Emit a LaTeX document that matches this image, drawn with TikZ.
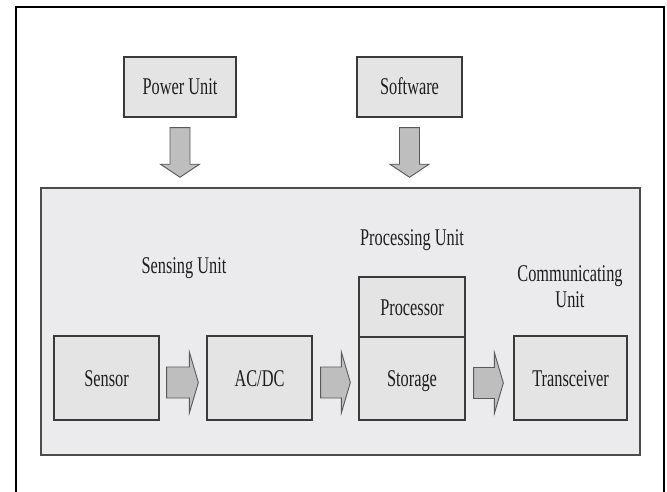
\documentclass[tikz,border=0pt]{standalone}
\usepackage{fontspec}
\setmainfont{Liberation Serif}[FakeStretch=0.68]
\usetikzlibrary{calc}
\definecolor{boxfill}{HTML}{E4E4E4}
\definecolor{mainfill}{HTML}{EBEBED}
\definecolor{arrfill}{HTML}{BEBEBE}
\definecolor{boxline}{HTML}{3A3A3A}
\definecolor{txtcol}{HTML}{1E1E1E}
\tikzset{
  unitbox/.style={draw=boxline, line width=1.3pt, fill=boxfill, inner sep=0pt,
    text height=16pt, text depth=0pt, text=txtcol,
    font=\fontsize{24}{28}\selectfont},
  mainbox/.style={draw=black!70, line width=1.5pt, fill=mainfill, inner sep=0pt},
  lbl/.style={anchor=base, inner sep=0pt, text=txtcol, font=\fontsize{24}{28}\selectfont},
  arrowfill/.style={draw=black!65, line width=0.9pt, fill=arrfill, line join=miter},
}
% horizontal block arrow: from node, to node, start gap, end gap
\newcommand\harr[4]{%
  \path[arrowfill] let \p1=(#1.east), \p2=(#2.west) in
    (\x1+#3, \y1+11pt) -- (\x2-#4-9pt, \y1+11pt) -- (\x2-#4-9pt, \y1+26pt)
    -- (\x2-#4, \y1-4.5pt) -- (\x2-#4-9pt, \y1-35pt) -- (\x2-#4-9pt, \y1-20pt)
    -- (\x1+#3, \y1-20pt) -- cycle;}
% vertical block arrow: from node (south) into node (north)
\newcommand\varr[2]{%
  \path[arrowfill] let \p1=(#1.south), \p2=(#2.north) in
    (\x1-10pt, \y1-10pt) -- (\x1-10pt, \y2+23pt) -- (\x1-19.5pt, \y2+23pt)
    -- (\x1, \y2+10pt) -- (\x1+19.5pt, \y2+23pt) -- (\x1+10pt, \y2+23pt)
    -- (\x1+10pt, \y1-10pt) -- cycle;}
\begin{document}
\begin{tikzpicture}[x=1pt, y=-1pt]
\useasboundingbox (0,0) rectangle (667,492);
\fill[white] (0,0) rectangle (667,492);
% outer frame
\draw[line width=1.2pt, black] (16,492) -- (16,7) -- (664,7) -- (664,492);
% main container
\node[mainbox, minimum width=599pt, minimum height=267pt] (main) at (340.5,321.5) {};
% top units
\node[unitbox, minimum width=112pt, minimum height=60pt] (power) at (180,87) {Power Unit};
\node[unitbox, minimum width=105pt, minimum height=60pt] (soft) at (409.5,87) {Software};
% inner boxes
\node[unitbox, minimum width=105pt, minimum height=84pt] (sensor) at (106.5,378) {Sensor};
\node[unitbox, minimum width=105pt, minimum height=84pt] (acdc) at (259.5,378) {AC/DC};
\node[unitbox, minimum width=106pt, minimum height=60pt] (proc) at (412,307) {Processor};
\node[unitbox, minimum width=106pt, minimum height=83pt] (stor) at (412,378.5) {Storage};
\node[unitbox, minimum width=113pt, minimum height=84pt] (trans) at (570.5,378) {Transceiver};
% labels
\node[lbl] (lsense) at (184,273) {Sensing Unit};
\node[lbl] (lproc) at (412,245) {Processing Unit};
\node[lbl] (lcomm1) at (570,281) {Communicating};
\node[lbl] (lcomm2) at (570,307) {Unit};
% arrows
\varr{power}{main}
\varr{soft}{main}
\harr{sensor}{acdc}{7pt}{8pt}
\harr{acdc}{stor}{8pt}{8pt}
\harr{stor}{trans}{8pt}{10pt}
\end{tikzpicture}
\end{document}
